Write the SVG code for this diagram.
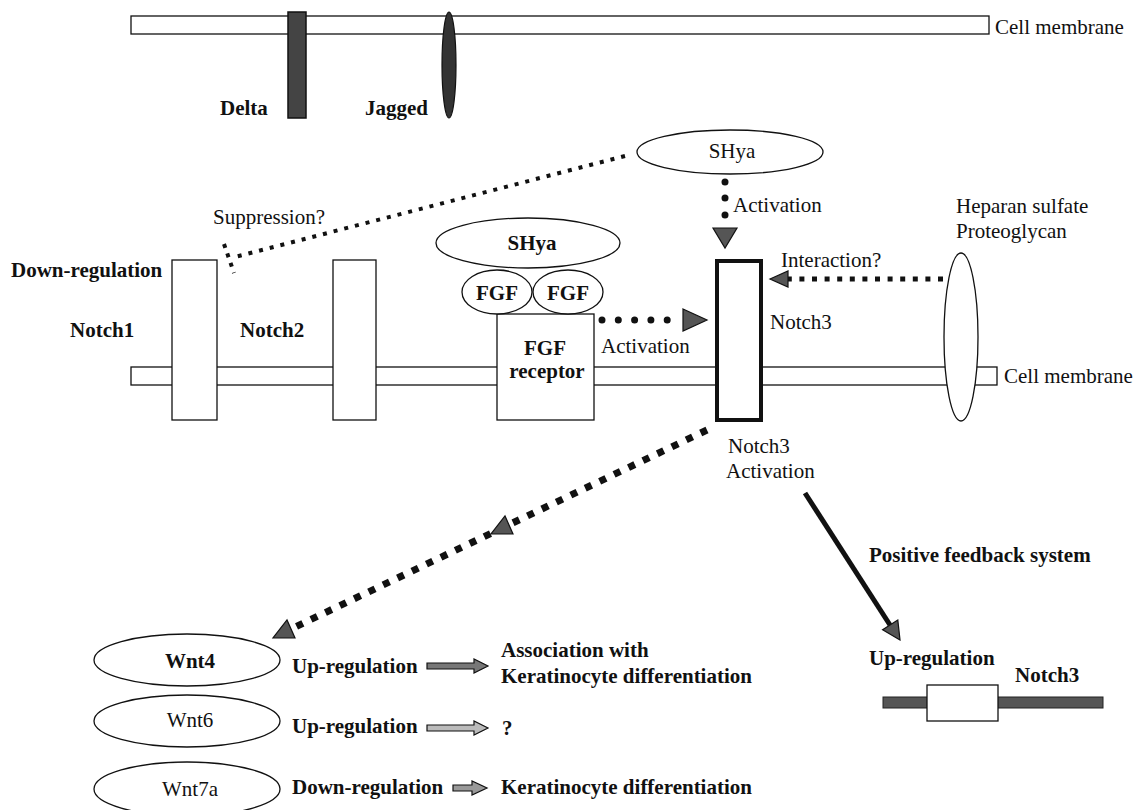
<svg xmlns="http://www.w3.org/2000/svg" width="1138" height="810" viewBox="0 0 1138 810">
<style>
.t{font-family:"Liberation Serif","Times New Roman",serif;font-size:21px;fill:#111}
.b{font-weight:bold}
.m{text-anchor:middle}
.sh{fill:#fff;stroke:#111;stroke-width:1.3}
.head{fill:#555;stroke:#111;stroke-width:1.2;stroke-linejoin:miter}
</style>
<rect width="1138" height="810" fill="#fff"/>

<g id="membrane-top">
<rect class="sh" x="131" y="16" width="858" height="18"/>
<text class="t" x="995" y="34">Cell membrane</text>
</g>
<g id="delta">
<rect x="288" y="12" width="18" height="106" fill="#444" stroke="#111" stroke-width="1.5"/>
<text class="t b" x="220" y="115">Delta</text>
</g>
<g id="jagged">
<ellipse cx="449" cy="65" rx="7" ry="53" fill="#333" stroke="#111" stroke-width="1.2"/>
<text class="t b" x="365" y="115">Jagged</text>
</g>

<g id="membrane-mid">
<rect class="sh" x="131" y="367" width="866" height="18"/>
<text class="t" x="1004" y="383">Cell membrane</text>
</g>

<g id="notch1">
<rect class="sh" x="172" y="260" width="45" height="160"/>
<text class="t b" x="70" y="337">Notch1</text>
<text class="t b" x="11" y="277">Down-regulation</text>
</g>
<g id="notch2">
<rect class="sh" x="333" y="260" width="43" height="160"/>
<text class="t b" x="240" y="337">Notch2</text>
</g>

<g id="fgf-receptor">
<rect class="sh" x="497" y="314" width="97" height="106"/>
<text class="t b m" x="545" y="355">FGF</text>
<text class="t b m" x="547" y="378">receptor</text>
</g>
<g id="fgf1">
<ellipse class="sh" cx="497" cy="292" rx="35" ry="22"/>
<text class="t b m" x="497" y="300">FGF</text>
</g>
<g id="fgf2">
<ellipse class="sh" cx="568" cy="292" rx="35" ry="22"/>
<text class="t b m" x="568" y="300">FGF</text>
</g>
<g id="shya-lower">
<ellipse class="sh" cx="528" cy="243" rx="92" ry="25"/>
<text class="t b m" x="532" y="250">SHya</text>
</g>

<g id="shya-upper">
<ellipse class="sh" cx="730" cy="152" rx="93" ry="22"/>
<text class="t m" x="732" y="158">SHya</text>
</g>

<g id="notch3">
<rect x="717" y="261" width="44" height="159" fill="#fff" stroke="#111" stroke-width="4"/>
<text class="t" x="770" y="329">Notch3</text>
<text class="t" x="728" y="453">Notch3</text>
<text class="t" x="726" y="478">Activation</text>
</g>

<g id="heparan">
<ellipse class="sh" cx="961" cy="337" rx="17" ry="84"/>
<text class="t" x="956" y="213">Heparan sulfate</text>
<text class="t" x="956" y="238">Proteoglycan</text>
</g>

<g id="notch3-gene">
<rect x="883" y="697" width="220" height="11" fill="#555" stroke="#222" stroke-width="1"/>
<rect class="sh" x="927" y="685" width="71" height="36"/>
<text class="t b" x="869" y="665">Up-regulation</text>
<text class="t b" x="1015" y="682">Notch3</text>
</g>

<g id="wnt4">
<ellipse class="sh" cx="187" cy="660" rx="93" ry="26"/>
<text class="t b m" x="190" y="668">Wnt4</text>
<text class="t b" x="292" y="673">Up-regulation</text>
<text class="t b" x="501" y="657">Association with</text>
<text class="t b" x="501" y="683">Keratinocyte differentiation</text>
</g>
<g id="wnt6">
<ellipse class="sh" cx="187" cy="721" rx="93" ry="26"/>
<text class="t m" x="190" y="727">Wnt6</text>
<text class="t b" x="292" y="733">Up-regulation</text>
<text class="t b" x="502" y="735">?</text>
</g>
<g id="wnt7a">
<ellipse class="sh" cx="187" cy="789" rx="93" ry="27"/>
<text class="t m" x="190" y="796">Wnt7a</text>
<text class="t b" x="292" y="794">Down-regulation</text>
<text class="t b" x="501" y="794">Keratinocyte differentiation</text>
</g>

<g id="labels">
<text class="t" x="213" y="224">Suppression?</text>
<text class="t" x="733" y="212">Activation</text>
<text class="t" x="601" y="353">Activation</text>
<text class="t" x="781" y="267">Interaction?</text>
<text class="t b" x="869" y="562">Positive feedback system</text>
</g>

<g id="connectors">
<!-- suppression (SHya -> Notch1, T-bar) -->
<line x1="625" y1="156" x2="231" y2="258" stroke="#111" stroke-width="4" stroke-dasharray="4 7"/>
<line x1="224" y1="244" x2="234" y2="273" stroke="#111" stroke-width="4" stroke-dasharray="4 6"/>
<!-- SHya -> Notch3 activation -->
<circle cx="725" cy="182" r="3.5" fill="#111"/>
<circle cx="725" cy="198" r="3.5" fill="#111"/>
<circle cx="725" cy="215" r="3.5" fill="#111"/>
<polygon class="head" points="713,228 737,228 725,248"/>
<!-- FGF receptor -> Notch3 activation -->
<line x1="602" y1="320" x2="670" y2="320" stroke="#111" stroke-width="7" stroke-linecap="round" stroke-dasharray="0 16.3"/>
<polygon class="head" points="683,309 707,320 683,331"/>
<!-- Heparan -> Notch3 interaction -->
<line x1="943" y1="279" x2="788" y2="279" stroke="#111" stroke-width="5" stroke-dasharray="5 7.6"/>
<polygon class="head" points="770,279 788,271 788,287"/>
<!-- Notch3 -> Wnt (thick dotted) -->
<line x1="707" y1="430" x2="291" y2="629" stroke="#111" stroke-width="7" stroke-dasharray="7 9"/>
<polygon class="head" points="491,534 513,534 505,516"/>
<polygon class="head" points="273,638 295,638 287,620"/>
<!-- Positive feedback -->
<line x1="805" y1="493" x2="890" y2="625" stroke="#111" stroke-width="5"/>
<polygon class="head" points="900,640 882.6,629.8 897.8,620"/>
<!-- Wnt row arrows -->
<polygon points="427,663 474,663 474,659 488,666 474,673 474,669 427,669" fill="#777" stroke="#111" stroke-width="1.2"/>
<polygon points="427,725 474,725 474,721 488,728 474,735 474,731 427,731" fill="#bbb" stroke="#111" stroke-width="1.2"/>
<polygon points="453,785 472,785 472,781 487,788 472,795 472,791 453,791" fill="#999" stroke="#111" stroke-width="1.2"/>
</g>
</svg>
